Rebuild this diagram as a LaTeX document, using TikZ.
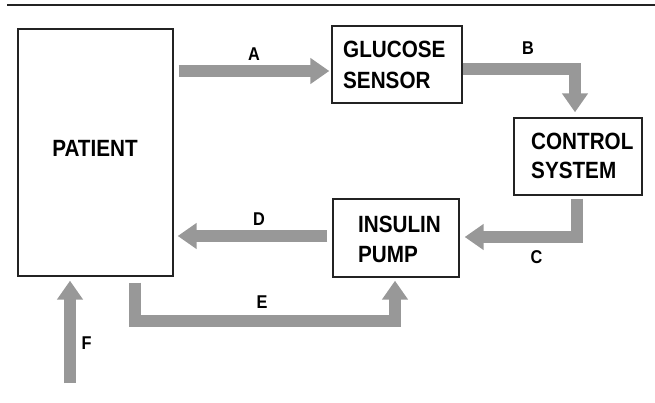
\documentclass[tikz,border=0pt]{standalone}
\usepackage{fontspec}
\setmainfont{Liberation Sans}[FakeStretch=0.88]
\usetikzlibrary{arrows.meta,calc}
\definecolor{arrowgray}{RGB}{152,152,152}
\definecolor{boxline}{RGB}{35,35,35}
\begin{document}
\begin{tikzpicture}[x=1pt,y=1pt,
  box/.style={draw=boxline, line width=1.4pt, inner sep=0pt},
  boxtxt/.style={font=\fontsize{23.5}{28}\selectfont\bfseries, anchor=base west, inner sep=0pt},
  lbl/.style={font=\fontsize{18.5}{22}\selectfont\bfseries, anchor=base, inner sep=0pt},
  flow/.style={draw=arrowgray, line width=12pt, line join=miter, -{Triangle[length=19pt,width=25pt]}},
]
\useasboundingbox (0,0) rectangle (655,402);
\draw[line width=1.5pt, boxline] (7,397) -- (655,397);

% boxes
\node[box, minimum width=155pt, minimum height=247pt] (patient) at (95.5,249.5) {};
\node[box, minimum width=130pt, minimum height=77pt] (gs) at (397,337.5) {};
\node[box, minimum width=128pt, minimum height=77pt] (ctrl) at (578,245.5) {};
\node[box, minimum width=126pt, minimum height=78pt] (pump) at (396,164) {};

% box texts
\node[boxtxt, anchor=base] (tpatient) at (95,245) {PATIENT};
\node[boxtxt] (tgs1) at (343,344) {GLUCOSE};
\node[boxtxt] (tgs2) at (343,313) {SENSOR};
\node[boxtxt] (tctrl1) at (531,252) {CONTROL};
\node[boxtxt] (tctrl2) at (531,223) {SYSTEM};
\node[boxtxt] (tpump1) at (358,170) {INSULIN};
\node[boxtxt] (tpump2) at (358,140) {PUMP};

% arrows
\draw[flow] ([xshift=5pt]patient.east |- 0,331) -- ([xshift=-2pt]gs.west |- 0,331);
\draw[flow] (gs.east |- 0,333) -| ([yshift=5pt]ctrl.north -| 575,0);
\draw[flow] ([yshift=-3pt]ctrl.south -| 577,0) |- ([xshift=5pt]pump.east |- 0,165);
\draw[flow] ([xshift=-5pt]pump.west |- 0,166) -- ([xshift=4pt]patient.east |- 0,166);
\draw[flow] ([yshift=-6pt]patient.south -| 135,0) -- ++(0,-38) -| ([yshift=-3pt]pump.south -| 395,0);
\coordinate (fsrc) at (70,19);
\draw[flow] (fsrc) -- ([yshift=-4pt]patient.south -| 70,0);

% labels
\node[lbl] (la) at (254,341) {A};
\node[lbl] (lb) at (528,347.5) {B};
\node[lbl] (lc) at (536.5,138.5) {C};
\node[lbl] (ld) at (259,176.5) {D};
\node[lbl] (le) at (262,93.5) {E};
\node[lbl] (lf) at (86.5,52.5) {F};
\end{tikzpicture}
\end{document}
